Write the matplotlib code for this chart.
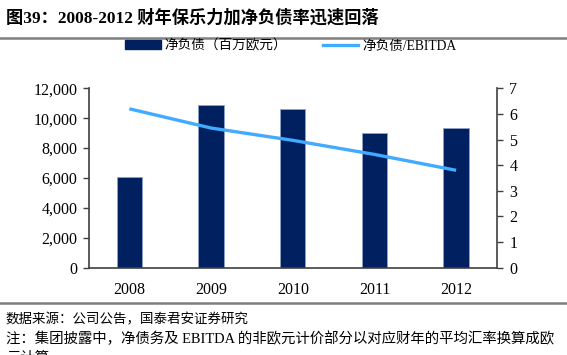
import matplotlib
matplotlib.use('Agg')
import matplotlib.pyplot as plt
from matplotlib.lines import Line2D
import numpy as np

plt.rcParams['font.family'] = ['Liberation Serif', 'Noto Sans CJK SC', 'DejaVu Sans']

years = ['2008', '2009', '2010', '2011', '2012']
net_debt = [6100, 10900, 10600, 9000, 9350]          # 百万欧元
debt_ebitda = [6.2, 5.45, 4.97, 4.42, 3.8]

navy = '#002060'
sky = '#42aaff'

fig = plt.figure(figsize=(5.67, 3.55), dpi=100)
ax = fig.add_axes([88.5 / 567, 1 - 267.7 / 355, (497 - 88.5) / 567, (267.7 - 88.3) / 355])
x = np.arange(len(years))
ax.bar(x, net_debt, width=0.31, color=navy, edgecolor='#8fa3c8', linewidth=0.6, zorder=2)
ax.set_xlim(-0.5, len(years) - 0.5)
ax.set_ylim(0, 12000)
ax.set_yticks(range(0, 12001, 2000))
ax.set_yticklabels([f'{v:,}' for v in range(0, 12001, 2000)])
ax.set_xticks(x)
ax.set_xticklabels(years)
ax.tick_params(axis='x', length=0, pad=10, labelsize=11.5)
ax.tick_params(axis='y', length=4, width=1, pad=4, labelsize=11.5, color='#404040')
for s in ['top', 'right']:
    ax.spines[s].set_visible(False)
for s in ['left', 'bottom']:
    ax.spines[s].set_color('#404040')
    ax.spines[s].set_linewidth(1.2)

ax2 = ax.twinx()
ax2.plot(x, debt_ebitda, color=sky, linewidth=2.4, solid_capstyle='butt', zorder=3)
ax2.set_ylim(0, 7)
ax2.set_yticks(range(0, 8))
ax2.tick_params(axis='y', length=4, width=1, pad=5, labelsize=11.5, color='#404040')
for s in ['top', 'left', 'bottom']:
    ax2.spines[s].set_visible(False)
ax2.spines['right'].set_color('#404040')
ax2.spines['right'].set_linewidth(1.2)

handles = [plt.Rectangle((0, 0), 1, 1, color=navy),
           Line2D([0], [0], color=sky, linewidth=2.4)]
fig.legend(handles, ['净负债（百万欧元）', '净负债/EBITDA'],
           loc='center left', bbox_to_anchor=(113 / 567, 1 - 46 / 355),
           ncol=2, frameon=False, fontsize=9.8, handlelength=2.6,
           handleheight=0.6, handletextpad=0.3, columnspacing=2.6)

fig.text(6 / 567, 1 - 18 / 355, '图39：2008-2012 财年保乐力加净负债率迅速回落',
         fontsize=12.4, fontweight='bold', va='center', ha='left')
fig.add_artist(Line2D([0, 1], [1 - 37.5 / 355] * 2, color='#7f7f7f', linewidth=1.8))
fig.add_artist(Line2D([0, 1], [1 - 302.5 / 355] * 2, color='#7f7f7f', linewidth=1.8))

fig.text(6 / 567, 1 - 320 / 355, '数据来源：公司公告，国泰君安证券研究',
         fontsize=9.7, va='center', ha='left')
fig.text(6 / 567, 1 - 339 / 355,
         '注：集团披露中，净债务及 EBITDA 的非欧元计价部分以对应财年的平均汇率换算成欧',
         fontsize=10.4, va='center', ha='left')
fig.text(6 / 567, 1 - 358 / 355, '元计算', fontsize=10.4, va='center', ha='left')

fig.savefig('out.png', dpi=100)
